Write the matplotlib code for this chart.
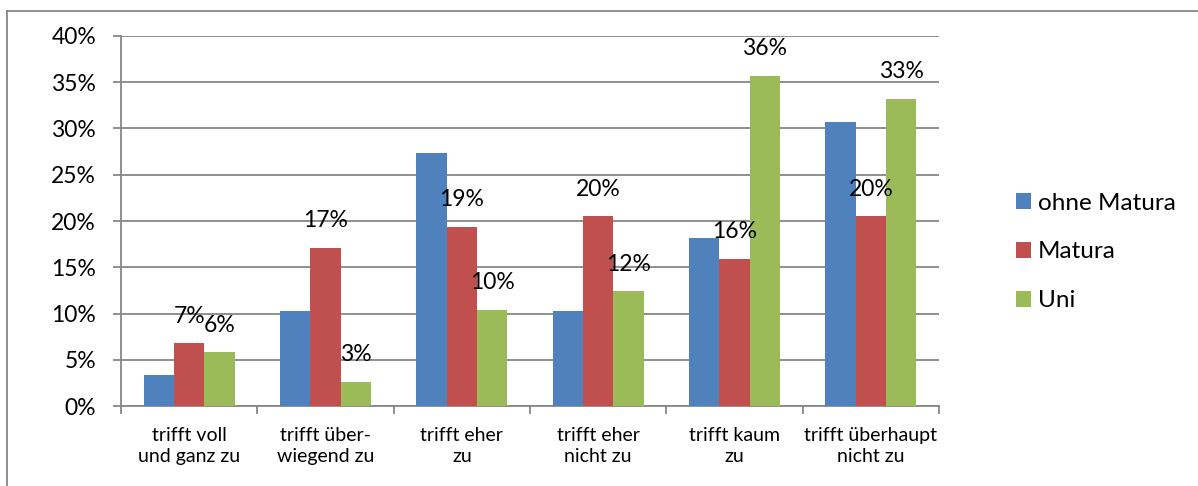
"""
    Grouped bar chart: agreement by education level (ohne Matura / Matura / Uni).
"""

# ------ Environment Setup ------ #
import numpy as np
import matplotlib
matplotlib.use("Agg")
import matplotlib.pyplot as plt
from matplotlib.lines import Line2D
from matplotlib.ticker import PercentFormatter


# ------ Data ------ #
categories = ["trifft voll\nund ganz zu", "trifft über-\nwiegend zu", "trifft eher\nzu",
              "trifft eher\nnicht zu", "trifft kaum\nzu", "trifft überhaupt\nnicht zu"]
series_names = ["ohne Matura", "Matura", "Uni"]
ohne_matura = [3.4, 10.3, 27.3, 10.3, 18.2, 30.7]
matura = [6.8, 17.1, 19.4, 20.5, 15.9, 20.5]
uni = [5.8, 2.6, 10.4, 12.4, 35.7, 33.2]
labelled = [False, True, True]          # ohne Matura has no data labels

colors = ["#4F81BD", "#C0504D", "#9BBB59"]


# ------ Plotting ------ #
plt.rcParams['font.family'] = ['Lato', 'DejaVu Sans']

fig = plt.figure(figsize=(11.98, 4.86), dpi=100)
ax = fig.add_axes([121 / 1198, 80 / 486, (939 - 121) / 1198, 370 / 486])

x = np.arange(len(categories))
width = 0.222
grid_col = "#878787"

for i, (name, vals) in enumerate(zip(series_names, [ohne_matura, matura, uni])):
    bars = ax.bar(x + (i - 1) * width, vals, width, color=colors[i], label=name, zorder=3)
    if labelled[i]:
        for b, v in zip(bars, vals):
            ax.annotate(f"{round(v):d}%", (b.get_x() + b.get_width() / 2, v),
                        xytext=(0, 19.5), textcoords="offset points",
                        ha="center", va="center", fontsize=16.5, zorder=4)

# axes
ax.set_xlim(-0.5, len(categories) - 0.5)
ax.set_ylim(0, 40)
ax.set_yticks(np.arange(0, 41, 5))
ax.yaxis.set_major_formatter(PercentFormatter(decimals=0))
ax.grid(axis="y", color=grid_col, linewidth=1.3, zorder=0)

ax.set_xticks(x, categories, fontsize=14, linespacing=1.3)
ax.set_xticks(np.arange(-0.5, len(categories)), minor=True)
ax.tick_params(axis="x", which="major", length=0, pad=15)
ax.tick_params(axis="x", which="minor", length=6, width=1.3, color=grid_col, direction="out")
ax.tick_params(axis="y", length=6, width=1.3, color=grid_col, labelsize=16.5, pad=12)

for side in ["top", "right"]:
    ax.spines[side].set_visible(False)
for side in ["left", "bottom"]:
    ax.spines[side].set_color(grid_col)
    ax.spines[side].set_linewidth(1.3)

# legend
ax.legend(loc="center left", bbox_to_anchor=(994 / 1198, 1 - 252 / 486),
          bbox_transform=fig.transFigure, frameon=False, fontsize=17.5,
          handlelength=0.62, handleheight=0.62, handletextpad=0.3, labelspacing=1.15)

# outer chart border (cropped at right and bottom)
fig.add_artist(Line2D([7 / 1198, 1.0], [1 - 11 / 486, 1 - 11 / 486],
                      transform=fig.transFigure, color=grid_col, linewidth=1.3))
fig.add_artist(Line2D([7 / 1198, 7 / 1198], [0.0, 1 - 11 / 486],
                      transform=fig.transFigure, color=grid_col, linewidth=1.3))

plt.savefig("out.png", dpi=100)
